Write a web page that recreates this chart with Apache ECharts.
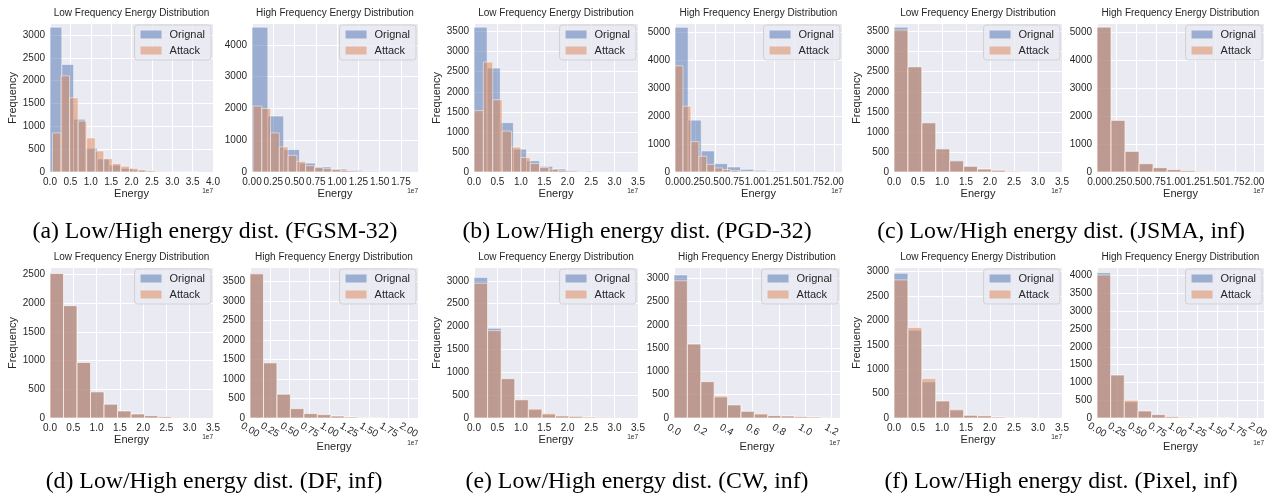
<!DOCTYPE html>
<html>
<head>
<meta charset="utf-8">
<script src="https://cdn.jsdelivr.net/npm/echarts@6/dist/echarts.min.js"></script>
<style>
  html, body { margin: 0; padding: 0; background: #ffffff; }
  #chart { width: 1273px; height: 499px; }
</style>
</head>
<body>
<div id="chart"></div>
<script>
// ---------------------------------------------------------------------------
// Text
// ---------------------------------------------------------------------------
const seriesNames = ['Orignal', 'Attack'];
const panelTitles = ['Low Frequency Energy Distribution', 'High Frequency Energy Distribution'];
const captions = [
  '(a) Low/High energy dist. (FGSM-32)',
  '(b) Low/High energy dist. (PGD-32)',
  '(c) Low/High energy dist. (JSMA, inf)',
  '(d) Low/High energy dist. (DF, inf)',
  '(e) Low/High energy dist. (CW, inf)',
  '(f) Low/High energy dist. (Pixel, inf)'
];
const xName = 'Energy';
const yName = 'Frequency';
const offsetText = '1e7';

// ---------------------------------------------------------------------------
// Histogram bins: [first edge, bin width] in units of 1e7, and counts per bin
// ---------------------------------------------------------------------------
const fgsmLowOrignalBins = [0, 0.29];
const fgsmLowOrignal = [3170, 2355, 1155, 520, 285, 150, 80, 45, 25, 12];
const fgsmLowAttackBins = [0.06, 0.21];
const fgsmLowAttack = [855, 2105, 1625, 1115, 745, 460, 290, 185, 125, 80, 45, 25, 12, 6, 3, 2, 1];

const fgsmHighOrignalBins = [0, 0.186];
const fgsmHighOrignal = [4560, 1760, 705, 280, 158, 92, 52, 30, 12, 5];
const fgsmHighAttackBins = [0.012, 0.103];
const fgsmHighAttack = [2075, 2000, 1230, 790, 525, 335, 200, 137, 105, 74, 50, 30, 18, 10, 6, 3];

const pgdLowOrignalBins = [0, 0.28];
const pgdLowOrignal = [3610, 2590, 1230, 570, 280, 140, 75, 40, 20, 10];
const pgdLowAttackBins = [0, 0.2];
const pgdLowAttack = [1530, 2740, 1800, 1020, 620, 360, 210, 110, 70, 40, 20, 10];

const pgdHighOrignalBins = [0, 0.165];
const pgdHighOrignal = [5190, 1860, 755, 300, 180, 96, 60, 35, 15, 8];
const pgdHighAttackBins = [0, 0.1];
const pgdHighAttack = [3810, 2360, 1090, 565, 275, 145, 85, 50, 30, 18, 10, 6, 3];

const jsmaLowBins = [0, 0.29];
const jsmaLowOrignal = [3610, 2630, 1230, 580, 290, 145, 75, 45, 18, 8];
const jsmaLowAttack = [3540, 2620, 1225, 575, 275, 140, 72, 42, 17, 8];

const jsmaHighBins = [0, 0.178];
const jsmaHighOrignal = [5190, 1850, 740, 300, 155, 85, 48, 20, 10, 5];
const jsmaHighAttack = [5185, 1848, 738, 298, 153, 84, 47, 20, 10, 5];

const dfLowBins = [0, 0.29];
const dfLowOrignal = [2515, 1955, 965, 455, 240, 122, 70, 40, 22, 10];
const dfLowAttack = [2515, 1955, 965, 455, 240, 122, 70, 40, 22, 10];

const dfHighBins = [0, 0.17];
const dfHighOrignal = [3700, 1415, 610, 240, 112, 86, 50, 25, 10, 5];
const dfHighAttack = [3700, 1415, 610, 240, 112, 86, 50, 25, 10, 5];

const cwLowBins = [0, 0.29];
const cwLowOrignal = [3070, 1960, 860, 395, 180, 72, 38, 36, 20, 14];
const cwLowAttack = [2945, 1910, 860, 400, 200, 100, 50, 36, 20, 14];

const cwHighBins = [0, 0.102];
const cwHighOrignal = [3070, 1585, 780, 445, 280, 143, 72, 50, 43, 29, 21, 7];
const cwHighAttack = [2945, 1590, 780, 470, 282, 143, 93, 52, 43, 29, 21, 7];

const pixelLowBins = [0, 0.29];
const pixelLowOrignal = [2965, 1800, 740, 350, 158, 55, 40, 20, 8, 4];
const pixelLowAttack = [2830, 1855, 808, 350, 178, 55, 48, 20, 8, 4];

const pixelHighBins = [0, 0.17];
const pixelHighOrignal = [4085, 1208, 455, 198, 94, 38, 19, 10, 5, 3];
const pixelHighAttack = [4020, 1208, 500, 198, 94, 38, 19, 10, 5, 3];

// ---------------------------------------------------------------------------
// Axis ranges and tick steps for the 12 panels (left to right, top to bottom)
// ---------------------------------------------------------------------------
const xMax   = [4.0, 1.95, 3.5, 2.1, 3.5, 2.12, 3.5, 2.12, 3.5, 1.265, 3.5, 2.08];
const xStep  = [0.5, 0.25, 0.5, 0.25, 0.5, 0.25, 0.5, 0.25, 0.5, 0.2, 0.5, 0.25];
const xDigits = [1, 2, 1, 2, 1, 2, 1, 2, 1, 1, 1, 2];
const yMax   = [3240, 4660, 3690, 5310, 3690, 5300, 2610, 3850, 3280, 3220, 3075, 4215];
const yStep  = [500, 1000, 500, 1000, 500, 1000, 500, 500, 500, 500, 500, 500];

const histograms = [
  [fgsmLowOrignalBins, fgsmLowOrignal, fgsmLowAttackBins, fgsmLowAttack],
  [fgsmHighOrignalBins, fgsmHighOrignal, fgsmHighAttackBins, fgsmHighAttack],
  [pgdLowOrignalBins, pgdLowOrignal, pgdLowAttackBins, pgdLowAttack],
  [pgdHighOrignalBins, pgdHighOrignal, pgdHighAttackBins, pgdHighAttack],
  [jsmaLowBins, jsmaLowOrignal, jsmaLowBins, jsmaLowAttack],
  [jsmaHighBins, jsmaHighOrignal, jsmaHighBins, jsmaHighAttack],
  [dfLowBins, dfLowOrignal, dfLowBins, dfLowAttack],
  [dfHighBins, dfHighOrignal, dfHighBins, dfHighAttack],
  [cwLowBins, cwLowOrignal, cwLowBins, cwLowAttack],
  [cwHighBins, cwHighOrignal, cwHighBins, cwHighAttack],
  [pixelLowBins, pixelLowOrignal, pixelLowBins, pixelLowAttack],
  [pixelHighBins, pixelHighOrignal, pixelHighBins, pixelHighAttack]
];

// ---------------------------------------------------------------------------
// Layout: plot boxes [left, top, right, bottom] in pixels
// ---------------------------------------------------------------------------
const ROW1 = [24, 172];
const ROW2 = [268, 418];
const plotBoxes = [
  [50, ROW1[0], 213, ROW1[1]], [252, ROW1[0], 418, ROW1[1]],
  [474, ROW1[0], 638, ROW1[1]], [675, ROW1[0], 842, ROW1[1]],
  [894, ROW1[0], 1062, ROW1[1]], [1097, ROW1[0], 1264, ROW1[1]],
  [50, ROW2[0], 213, ROW2[1]], [250, ROW2[0], 418, ROW2[1]],
  [474, ROW2[0], 638, ROW2[1]], [674, ROW2[0], 840, ROW2[1]],
  [894, ROW2[0], 1062, ROW2[1]], [1097, ROW2[0], 1264, ROW2[1]]
];
// panels whose x tick labels are slanted
const slanted = [false, false, false, false, false, false, false, true, false, true, false, true];
const captionCenters = [[215, 232], [637, 232], [1061, 232], [214, 482], [637, 482], [1061, 482]];

const CHART_W = 1273;
const SANS = '"Liberation Sans", Arial, "DejaVu Sans", sans-serif';
const SERIF = '"Liberation Serif", "Times New Roman", serif';
const INK = '#262626';
const FACE = '#EAEAF2';
const BLUE = '#4C72B0';
const ORANGE = '#DD8452';
// legend patches: the half-transparent bar colours over the axes face
const BLUE_PATCH = '#9BAED1';
const ORANGE_PATCH = '#E3B7A2';
const TICK_SIZE = 10;

function binData(bins, counts) {
  const start = bins[0], width = bins[1];
  return counts.map((c, k) => [start + k * width, start + (k + 1) * width, c]);
}

function barRenderer(color) {
  return function (params, api) {
    const topLeft = api.coord([api.value(0), api.value(2)]);
    const bottomRight = api.coord([api.value(1), 0]);
    return {
      type: 'rect',
      shape: {
        x: topLeft[0],
        y: topLeft[1],
        width: bottomRight[0] - topLeft[0],
        height: bottomRight[1] - topLeft[1]
      },
      style: { fill: color, stroke: '#ffffff', lineWidth: 1, opacity: 0.5 }
    };
  };
}

const isTick = (max, step) => Math.abs(max / step - Math.round(max / step)) < 1e-6;

const grid = [], xAxis = [], yAxis = [], series = [], legend = [], graphic = [];

plotBoxes.forEach((box, i) => {
  const [l, t, r, b] = box;
  const leftOfPair = i % 2 === 0;
  const rot = slanted[i];
  const xEnds = isTick(xMax[i], xStep[i]);

  grid.push({
    left: l, top: t, width: r - l, height: b - t,
    show: true, backgroundColor: FACE, borderWidth: 0,
    containLabel: false, outerBoundsMode: 'none'
  });

  xAxis.push({
    gridIndex: i, type: 'value', min: 0, max: xMax[i], interval: xStep[i],
    axisLine: { show: false }, axisTick: { show: false },
    splitLine: { show: true, showMinLine: true, showMaxLine: xEnds, lineStyle: { color: '#ffffff', width: 1 } },
    axisLabel: Object.assign({
      color: INK, fontSize: TICK_SIZE, fontFamily: SANS,
      showMinLabel: true, showMaxLabel: xEnds, hideOverlap: false,
      formatter: v => v.toFixed(xDigits[i])
    }, rot ? { rotate: -30, align: 'center', verticalAlign: 'middle', margin: 12 } : { margin: 5 }),
    name: xName, nameLocation: 'middle', nameGap: rot ? 23 : 16,
    nameTextStyle: { color: INK, fontSize: 11, fontFamily: SANS }
  });

  yAxis.push({
    gridIndex: i, type: 'value', min: 0, max: yMax[i], interval: yStep[i],
    axisLine: { show: false }, axisTick: { show: false },
    splitLine: { show: true, showMaxLine: false, lineStyle: { color: '#ffffff', width: 1 } },
    axisLabel: {
      color: INK, fontSize: TICK_SIZE, fontFamily: SANS, margin: 5, showMaxLabel: false,
      formatter: v => String(Math.round(v))
    },
    name: leftOfPair ? yName : '', nameLocation: 'middle', nameGap: 26,
    nameTextStyle: { color: INK, fontSize: 11, fontFamily: SANS }
  });

  const [ob, oc, ab, ac] = histograms[i];
  series.push({
    type: 'custom', name: seriesNames[0], xAxisIndex: i, yAxisIndex: i, clip: true,
    itemStyle: { color: BLUE, opacity: 0.5 },
    encode: { x: [0, 1], y: 2 },
    data: binData(ob, oc),
    renderItem: barRenderer(BLUE)
  });
  series.push({
    type: 'custom', name: seriesNames[1], xAxisIndex: i, yAxisIndex: i, clip: true,
    itemStyle: { color: ORANGE, opacity: 0.5 },
    encode: { x: [0, 1], y: 2 },
    data: binData(ab, ac),
    renderItem: barRenderer(ORANGE)
  });

  legend.push({
    orient: 'vertical', right: CHART_W - r + 2, top: t + 1,
    backgroundColor: 'rgba(234,234,242,0.8)', borderColor: 'rgba(204,204,204,0.8)',
    borderWidth: 1, borderRadius: 3, padding: [4, 6, 4, 6],
    itemGap: 5, itemWidth: 21, itemHeight: 8, icon: 'rect',
    selectedMode: false,
    textStyle: { color: INK, fontSize: 11, fontFamily: SANS, padding: [0, 0, 0, 3] },
    data: [
      { name: seriesNames[0], itemStyle: { color: BLUE_PATCH, opacity: 1, borderWidth: 0 } },
      { name: seriesNames[1], itemStyle: { color: ORANGE_PATCH, opacity: 1, borderWidth: 0 } }
    ]
  });

  // panel title
  graphic.push({
    type: 'text', x: (l + r) / 2, y: t - 11, silent: true,
    style: {
      text: panelTitles[i % 2], align: 'center', verticalAlign: 'middle',
      font: '10px ' + SANS, fill: INK
    }
  });
  // scale factor of the x axis
  graphic.push({
    type: 'text', x: r, y: b + (rot ? 25 : 19), silent: true,
    style: {
      text: offsetText, align: 'right', verticalAlign: 'middle',
      font: '6.5px ' + SANS, fill: INK
    }
  });
});

captions.forEach((c, k) => {
  graphic.push({
    type: 'text', x: captionCenters[k][0], y: captionCenters[k][1], silent: true,
    style: { text: c, align: 'center', verticalAlign: 'middle', font: '23.8px ' + SERIF, fill: '#000000' }
  });
});

const chart = echarts.init(document.getElementById('chart'), null, { renderer: 'canvas' });
chart.setOption({
  animation: false,
  backgroundColor: '#ffffff',
  grid, xAxis, yAxis, series, legend, graphic
});
</script>
</body>
</html>
